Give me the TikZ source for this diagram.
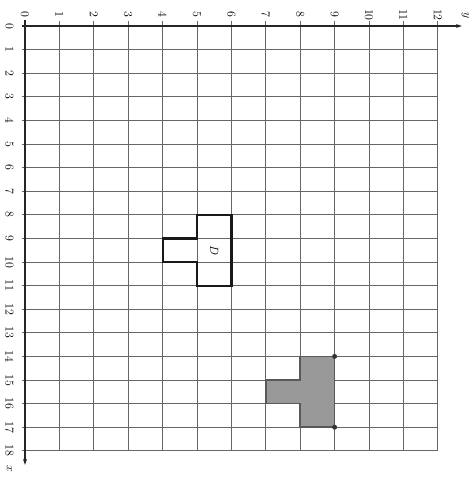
\documentclass[tikz,border=0pt]{standalone}
\usetikzlibrary{arrows.meta}
\begin{document}
\begin{tikzpicture}[x=1bp,y=-1bp,
  gridline/.style={draw=black!60,line width=1bp},
  axisline/.style={draw=black!85,line width=1.4bp,-{Stealth[length=6bp,width=4bp]}},
  shapeline/.style={draw=black!90,line width=2.2bp,line join=miter},
  lbl/.style={rotate=-90,font=\fontsize{12}{13}\selectfont,inner sep=0pt},
  dotmark/.style={circle,fill=black!80,inner sep=0pt,minimum size=5bp}]
\useasboundingbox (0,0) rectangle (475,477);
\begin{scope}[shift={(25,26)},x=34.4bp,y=-23.6bp]
  % grid
  \foreach \c in {1,...,12} \draw[gridline] (\c,-0.2) -- (\c,18);
  \foreach \r in {1,...,18} \draw[gridline] (-0.1,\r) -- (12,\r);
  % axes
  \coordinate (o) at (0,-0.25);
  \coordinate (xend) at (0,18.6);
  \coordinate (yo) at (-0.1,0);
  \coordinate (yend) at (12.7,0);
  \draw[axisline] (o) -- (xend);
  \draw[axisline] (yo) -- (yend);
  % labels
  \foreach \c in {0,...,12} \node[lbl] (c\c) at (\c,-0.47) {\c};
  \foreach \r in {0,...,18} \node[lbl] (r\r) at (-0.45,\r) {\r};
  \node[lbl] (ylab) at (12.8,-0.45) {$y$};
  \node[lbl] (xlab) at (-0.45,18.75) {$x$};
  % shape D
  \draw[shapeline] (5,8) -- (6,8) -- (6,11) -- (5,11) -- (5,10) -- (4,10) -- (4,9) -- (5,9) -- cycle;
  \node[lbl] (dlab) at (5.5,9.5) {$D$};
  % shaded image
  \draw[shapeline,draw=black!65,fill=black!40,line width=1.6bp] (8,14) -- (9,14) -- (9,17) -- (8,17) -- (8,16) -- (7,16) -- (7,15) -- (8,15) -- cycle;
  \node[dotmark] (p1) at (9,14) {};
  \node[dotmark] (p2) at (9,17) {};
\end{scope}
\end{tikzpicture}
\end{document}
